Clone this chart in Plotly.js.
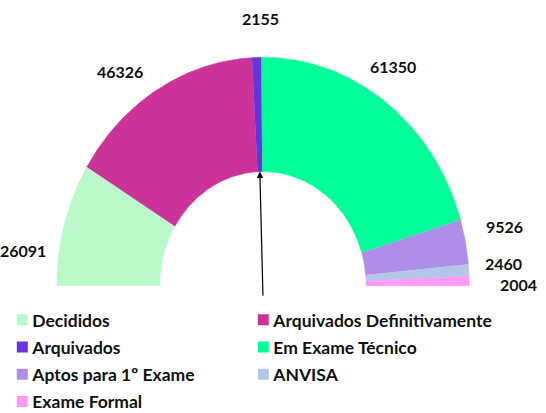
<!DOCTYPE html>
<html><head><meta charset="utf-8">
<script src="https://cdn.plot.ly/plotly-3.0.1.min.js"></script>
<style>html,body{margin:0;padding:0;background:#fff;overflow:hidden}#chart{width:546px;height:413px}</style>
</head><body><div id="chart"></div>
<script>
// ---- data ----
const categories = ["Decididos", "Arquivados Definitivamente", "Arquivados", "Em Exame Técnico", "Aptos para 1º Exame", "ANVISA", "Exame Formal"];
const values = [26091, 46326, 2155, 61350, 9526, 2460, 2004];
const valueLabels = ["26091", "46326", "2155", "61350", "9526", "2460", "2004"];

// ---- styling (kept apart from data) ----
const colors = ["#BBF9CA", "#CC3399", "#6633DD", "#00FF99", "#AF8EE9", "#B3C6E7", "#FF99F8"];
const legendColumn = ["legend", "legend2", "legend", "legend2", "legend", "legend2", "legend"];
const labelShiftX = [-8, -19, 5, -13, 5, 0, 14];
const labelShiftY = [-37, -15, 0, 4, 8, 4, -4];
const holeRatio = 0.5;
const labelRadius = 1.17;
const FONT = "Lato, 'Open Sans', sans-serif";

const total = values.reduce((a, b) => a + b, 0);
const traces = [];
const annotations = [];
let cum = 0;
values.forEach((v, i) => {
  const a0 = Math.PI - (cum / total) * Math.PI;
  const a1 = Math.PI - ((cum + v) / total) * Math.PI;
  const n = Math.max(3, Math.ceil(Math.abs(a0 - a1) * 180 / Math.PI * 2));
  const xs = [], ys = [];
  for (let k = 0; k <= n; k++) { const a = a0 + (a1 - a0) * k / n; xs.push(Math.cos(a)); ys.push(Math.sin(a)); }
  for (let k = n; k >= 0; k--) { const a = a0 + (a1 - a0) * k / n; xs.push(holeRatio * Math.cos(a)); ys.push(holeRatio * Math.sin(a)); }
  traces.push({
    type: "scatter", mode: "lines", x: xs, y: ys, fill: "toself",
    fillcolor: colors[i], line: {color: colors[i], width: 0.5},
    showlegend: false, hoverinfo: "skip"
  });
  const mid = (a0 + a1) / 2;
  annotations.push({
    x: labelRadius * Math.cos(mid), y: labelRadius * Math.sin(mid), xref: "x", yref: "y",
    text: valueLabels[i], showarrow: false, xanchor: "center", yanchor: "middle",
    xshift: labelShiftX[i], yshift: labelShiftY[i],
    font: {family: FONT, size: 16, color: "#111", weight: 700}
  });
  if (i === 2) {
    annotations.push({
      x: holeRatio * Math.cos(mid), y: holeRatio * Math.sin(mid), xref: "x", yref: "y",
      ax: 0, ay: -0.05, axref: "x", ayref: "y", text: "", showarrow: true,
      arrowhead: 2, arrowsize: 1.1, arrowwidth: 1.2, arrowcolor: "#000", standoff: 0
    });
  }
  cum += v;
});
categories.forEach((c, i) => {
  traces.push({
    type: "scatter", mode: "markers", x: [null], y: [null], name: c,
    marker: {symbol: "square", size: 11, color: colors[i]},
    legend: legendColumn[i], legendgroup: "g" + i, showlegend: true, hoverinfo: "skip"
  });
});

const legendFont = {family: FONT, size: 17.5, color: "#111", weight: 700};
const layout = {
  width: 546, height: 413,
  margin: {l: 0, r: 0, t: 0, b: 0, autoexpand: false},
  paper_bgcolor: "#fff", plot_bgcolor: "#fff",
  hovermode: false,
  xaxis: {range: [-1.2748, 1.3718], visible: false, fixedrange: true},
  yaxis: {range: [-0.5574, 1.2509], visible: false, fixedrange: true},
  annotations: annotations,
  legend: {x: -0.0141, y: 0.269, xanchor: "left", yanchor: "top", font: legendFont, tracegroupgap: 1.5, bgcolor: "rgba(0,0,0,0)", itemwidth: 30},
  legend2: {x: 0.4273, y: 0.269, xanchor: "left", yanchor: "top", font: legendFont, tracegroupgap: 1.5, bgcolor: "rgba(0,0,0,0)", itemwidth: 30}
};
Plotly.newPlot("chart", traces, layout, {displayModeBar: false, staticPlot: true}).then(() => {
  // bring legend swatches closer to their labels, as in the reference
  document.querySelectorAll(".legendpoints").forEach(g => g.setAttribute("transform", "translate(10,0)"));
});
</script>
</body></html>
